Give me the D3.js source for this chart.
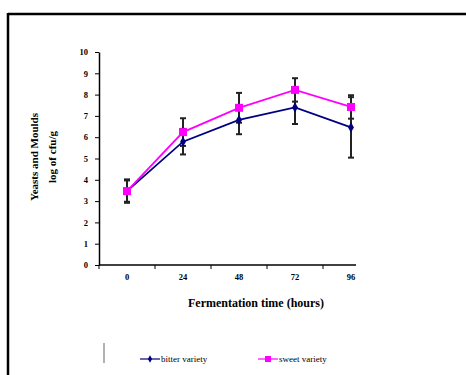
<!DOCTYPE html>
<html>
<head>
<meta charset="utf-8">
<script src="https://cdn.jsdelivr.net/npm/d3@7"></script>
<style>
body { margin: 0; background: #fff; }
svg { display: block; }
text { font-family: "Liberation Serif", "Times New Roman", serif; }
</style>
</head>
<body>
<svg width="466" height="375"></svg>
<script>
var hours = ["0", "24", "48", "72", "96"]
var bitter = [3.47, 5.79, 6.81, 7.40, 6.46]
var sweet = [3.47, 6.24, 7.38, 8.22, 7.42]
var bitterErr = [0.5, 0.6, 0.67, 0.78, 1.42]
var sweetErr = [0.55, 0.65, 0.7, 0.55, 0.55]
var yTicks = [0, 1, 2, 3, 4, 5, 6, 7, 8, 9, 10]

var svg = d3.select("svg")

// outer frame (top and left edges only visible)
svg.append("line").attr("x1", 8).attr("y1", 14).attr("x2", 466).attr("y2", 14)
    .attr("stroke", "#000").attr("stroke-width", 2.5)
svg.append("line").attr("x1", 8).attr("y1", 13).attr("x2", 8).attr("y2", 375)
    .attr("stroke", "#000").attr("stroke-width", 2.5)
svg.append("line").attr("x1", 104).attr("y1", 343).attr("x2", 104).attr("y2", 363)
    .attr("stroke", "#999").attr("stroke-width", 1.5)

var x = d3.scaleBand().domain(hours).range([99, 379])
var y = d3.scaleLinear().domain([0, 10]).range([265, 52])

// y axis
var yAxis = svg.append("g").attr("transform", "translate(99,0)")
    .call(d3.axisLeft(y).tickValues(yTicks).tickSize(4).tickSizeOuter(0))
yAxis.select(".domain").attr("stroke-width", 1.5)
yAxis.selectAll("text").attr("font-size", 8.5).attr("font-weight", "bold").attr("dx", -4)

// x axis
var xAxis = svg.append("g").attr("transform", "translate(0,265)")
xAxis.append("line").attr("x1", 99).attr("x2", 356).attr("stroke", "#000").attr("stroke-width", 1.5)
xAxis.selectAll(".tk").data(hours).enter().append("line")
    .attr("x1", function(d){return x(d);}).attr("x2", function(d){return x(d);})
    .attr("y1", 0).attr("y2", 4).attr("stroke", "#000")
xAxis.selectAll(".lb").data(hours).enter().append("text")
    .attr("x", function(d){return x(d) + x.bandwidth() / 2;})
    .attr("y", 15).attr("text-anchor", "middle")
    .attr("font-size", 8.5).attr("font-weight", "bold")
    .text(function(d){return d;})

// axis titles
svg.append("text").attr("x", 256).attr("y", 307).attr("text-anchor", "middle")
    .attr("font-size", 12).attr("font-weight", "bold").text("Fermentation time (hours)")
var yt = svg.append("text").attr("transform", "translate(38,157) rotate(-90)")
    .attr("text-anchor", "middle").attr("font-size", 11).attr("font-weight", "bold")
yt.append("tspan").attr("x", 0).attr("y", 0).text("Yeasts and Moulds")
yt.append("tspan").attr("x", 0).attr("y", 18).text("log of cfu/g")

var cx = function(d, i){return x(hours[i]) + x.bandwidth() / 2;}
var line = d3.line().x(cx).y(function(d){return y(d);})

function errorBars(vals, errs) {
    var g = svg.append("g").attr("stroke", "#222").attr("stroke-width", 2)
    vals.forEach(function(v, i){
        var px = cx(v, i)
        g.append("line").attr("x1", px).attr("x2", px).attr("y1", y(v + errs[i])).attr("y2", y(v - errs[i]))
        g.append("line").attr("x1", px - 3).attr("x2", px + 3).attr("y1", y(v + errs[i])).attr("y2", y(v + errs[i]))
        g.append("line").attr("x1", px - 3).attr("x2", px + 3).attr("y1", y(v - errs[i])).attr("y2", y(v - errs[i]))
    })
}
errorBars(bitter, bitterErr)
errorBars(sweet, sweetErr)

svg.append("path").datum(bitter).attr("d", line).attr("fill", "none")
    .attr("stroke", "#000080").attr("stroke-width", 1.8)
svg.selectAll(".bm").data(bitter).enter().append("path")
    .attr("d", d3.symbol().type(d3.symbolDiamond).size(30))
    .attr("transform", function(d, i){return "translate(" + cx(d, i) + "," + y(d) + ")";})
    .attr("fill", "#000080")

svg.append("path").datum(sweet).attr("d", line).attr("fill", "none")
    .attr("stroke", "#ff00ff").attr("stroke-width", 1.8)
svg.selectAll(".sm").data(sweet).enter().append("rect")
    .attr("x", function(d, i){return cx(d, i) - 4;})
    .attr("y", function(d){return y(d) - 4;})
    .attr("width", 8).attr("height", 8).attr("fill", "#ff00ff")

// legend
var legend = [
    {name: "bitter variety", color: "#000080", x: 140},
    {name: "sweet variety", color: "#ff00ff", x: 258}
]
legend.forEach(function(l){
    var g = svg.append("g").attr("transform", "translate(" + l.x + ",359)")
    g.append("line").attr("x1", 0).attr("x2", 20).attr("stroke", l.color).attr("stroke-width", 1.2)
    if (l.name == "bitter variety") {
        g.append("path").attr("d", d3.symbol().type(d3.symbolDiamond).size(16)).attr("transform", "translate(10,0)").attr("fill", l.color)
    } else {
        g.append("rect").attr("x", 7).attr("y", -3).attr("width", 6).attr("height", 6).attr("fill", l.color)
    }
    g.append("text").attr("x", 21).attr("y", 3).attr("font-size", 9).text(l.name)
})
</script>
</body>
</html>
